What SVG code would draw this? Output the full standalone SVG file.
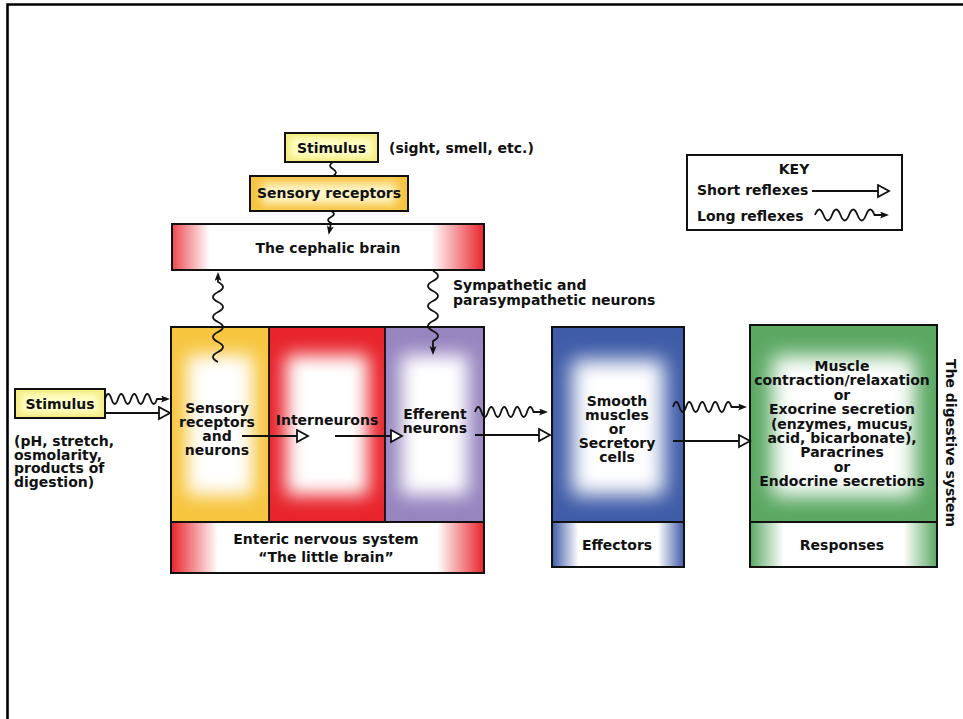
<svg xmlns="http://www.w3.org/2000/svg" width="963" height="719" viewBox="0 0 963 719">
<style>
text { font-family: "DejaVu Sans", "Liberation Sans", sans-serif; font-weight: bold; font-size: 14px; fill: #111; }
.c { text-anchor: middle; }
.box { fill: none; stroke: #111; stroke-width: 2; }
.ln { fill: none; stroke: #111; stroke-width: 1.8; }
.wv { fill: none; stroke: #111; stroke-width: 1.8; marker-end: url(#fa); }
.st { fill: none; stroke: #111; stroke-width: 1.8; marker-end: url(#oa); }
</style>
<defs>
<filter id="b9" x="-50%" y="-50%" width="200%" height="200%"><feGaussianBlur stdDeviation="9"/></filter>
<filter id="b10" x="-50%" y="-50%" width="200%" height="200%"><feGaussianBlur stdDeviation="10"/></filter>
<filter id="b4" x="-50%" y="-50%" width="200%" height="200%"><feGaussianBlur stdDeviation="4"/></filter>
<filter id="b3" x="-50%" y="-50%" width="200%" height="200%"><feGaussianBlur stdDeviation="3"/></filter>
<linearGradient id="gCeph" x1="0" y1="0" x2="1" y2="0">
<stop offset="0" stop-color="#ec4850"/><stop offset="0.12" stop-color="#fff"/><stop offset="0.83" stop-color="#fff"/><stop offset="1" stop-color="#e8242c"/>
</linearGradient>
<linearGradient id="gEns" x1="0" y1="0" x2="1" y2="0">
<stop offset="0" stop-color="#e8242c"/><stop offset="0.15" stop-color="#fff"/><stop offset="0.85" stop-color="#fff"/><stop offset="1" stop-color="#e8242c"/>
</linearGradient>
<linearGradient id="gEff" x1="0" y1="0" x2="1" y2="0">
<stop offset="0" stop-color="#3f5ca8"/><stop offset="0.2" stop-color="#fff"/><stop offset="0.8" stop-color="#fff"/><stop offset="1" stop-color="#3f5ca8"/>
</linearGradient>
<linearGradient id="gRes" x1="0" y1="0" x2="1" y2="0">
<stop offset="0" stop-color="#5aa862"/><stop offset="0.18" stop-color="#fff"/><stop offset="0.82" stop-color="#fff"/><stop offset="1" stop-color="#5aa862"/>
</linearGradient>
<marker id="fa" markerUnits="userSpaceOnUse" markerWidth="12" markerHeight="10" refX="2" refY="3.5" orient="auto">
<path d="M0,0 L9,3.5 L0,7 L2,3.5 z" fill="#111"/>
</marker>
<marker id="oa" markerUnits="userSpaceOnUse" markerWidth="14" markerHeight="16" refX="1" refY="7" orient="auto">
<path d="M1,1 L12,7 L1,13 z" fill="#fff" stroke="#111" stroke-width="1.8"/>
</marker>
</defs>

<rect x="0" y="0" width="963" height="719" fill="#fff"/>
<path d="M7.5,719 L7.5,4.5 L963,4.5" fill="none" stroke="#000" stroke-width="2.6"/>

<g id="stimulus-top">
<rect x="285" y="133" width="93" height="29" fill="#f4ec80"/>
<rect x="291" y="138" width="81" height="19" fill="#ffffc6" filter="url(#b3)"/>
<rect class="box" x="285" y="133" width="93" height="29"/>
<text class="c" x="331.5" y="153">Stimulus</text>
</g>
<text x="389" y="153">(sight, smell, etc.)</text>

<g id="sensory-receptors">
<rect x="250" y="176" width="158" height="35" fill="#f5c440"/>
<rect x="262" y="183" width="134" height="21" fill="#fff4c4" filter="url(#b4)"/>
<rect class="box" x="250" y="176" width="158" height="35"/>
<text class="c" x="329" y="198">Sensory receptors</text>
</g>

<g id="cephalic-brain">
<rect x="172" y="224" width="312" height="46" fill="url(#gCeph)"/>
<rect class="box" x="172" y="224" width="312" height="46"/>
<text class="c" x="328" y="253">The cephalic brain</text>
</g>

<g id="key">
<rect class="box" x="687" y="155" width="215" height="75" fill="#fff"/>
<text class="c" x="794" y="174">KEY</text>
<text x="697" y="195">Short reflexes</text>
<text x="697" y="221">Long reflexes</text>
<path class="st" d="M812,191 L878,191"/>
<path class="wv" d="M815,215 q4.25,-11 8.5,0 t8.5,0 t8.5,0 t8.5,0 t8.5,0 t8.5,0 t8.5,0 L882,215"/>
</g>

<g id="stimulus-left">
<rect x="15" y="389" width="90" height="29" fill="#f4ec80"/>
<rect x="21" y="394" width="78" height="19" fill="#ffffc6" filter="url(#b3)"/>
<rect class="box" x="15" y="389" width="90" height="29"/>
<text class="c" x="60" y="409">Stimulus</text>
</g>
<text x="14" y="446">(pH, stretch,</text>
<text x="14" y="459.5">osmolarity,</text>
<text x="14" y="473">products of</text>
<text x="14" y="486.5">digestion)</text>

<g id="ens">
<g id="ens-sensory">
<rect x="171" y="327" width="98" height="195" fill="#f7c53e"/>
<rect x="187" y="355" width="66" height="140" fill="#fff" filter="url(#b9)"/>
<text class="c" x="217" y="413">Sensory</text>
<text class="c" x="217" y="427">receptors</text>
<text class="c" x="217" y="441">and</text>
<text class="c" x="217" y="455">neurons</text>
</g>
<g id="ens-interneurons">
<rect x="269" y="327" width="116" height="195" fill="#e8242c"/>
<rect x="286" y="355" width="82" height="140" fill="#fff" filter="url(#b9)"/>
<text class="c" x="327" y="425">Interneurons</text>
</g>
<g id="ens-efferent">
<rect x="385" y="327" width="99" height="195" fill="#9785c0"/>
<rect x="401" y="355" width="67" height="140" fill="#fff" filter="url(#b9)"/>
<text class="c" x="435" y="419">Efferent</text>
<text class="c" x="435" y="433">neurons</text>
</g>
<g id="ens-bar">
<rect x="171" y="522" width="313" height="51" fill="url(#gEns)"/>
<text class="c" x="326" y="544">Enteric nervous system</text>
<text class="c" x="326" y="562">“The little brain”</text>
</g>
<rect class="box" x="171" y="327" width="313" height="246"/>
<path class="ln" d="M269,327 V522 M385,327 V522 M171,522 H484" stroke-width="2"/>
</g>

<g id="effectors">
<rect x="552" y="327" width="132" height="195" fill="#3f5ca8"/>
<rect x="572" y="360" width="92" height="135" fill="#fff" filter="url(#b10)"/>
<rect x="552" y="522" width="132" height="45" fill="url(#gEff)"/>
<rect class="box" x="552" y="327" width="132" height="240"/>
<path class="ln" d="M552,522 H684" stroke-width="2"/>
<text class="c" x="617" y="406">Smooth</text>
<text class="c" x="617" y="420">muscles</text>
<text class="c" x="617" y="434">or</text>
<text class="c" x="617" y="448">Secretory</text>
<text class="c" x="617" y="462">cells</text>
<text class="c" x="617" y="550">Effectors</text>
</g>

<g id="responses">
<rect x="750" y="325" width="187" height="197" fill="#5aa862"/>
<rect x="772" y="356" width="143" height="140" fill="#fff" filter="url(#b10)"/>
<rect x="750" y="522" width="187" height="45" fill="url(#gRes)"/>
<rect class="box" x="750" y="325" width="187" height="242"/>
<path class="ln" d="M750,522 H937" stroke-width="2"/>
<text class="c" x="842" y="371">Muscle</text>
<text class="c" x="842" y="385.4">contraction/relaxation</text>
<text class="c" x="842" y="399.8">or</text>
<text class="c" x="842" y="414.2">Exocrine secretion</text>
<text class="c" x="842" y="428.6">(enzymes, mucus,</text>
<text class="c" x="842" y="443">acid, bicarbonate),</text>
<text class="c" x="842" y="457.4">Paracrines</text>
<text class="c" x="842" y="471.8">or</text>
<text class="c" x="842" y="486.2">Endocrine secretions</text>
<text class="c" x="842" y="550">Responses</text>
</g>
<text class="c" transform="translate(946,443) rotate(90)">The digestive system</text>
<text x="453" y="290">Sympathetic and</text>
<text x="453" y="305">parasympathetic neurons</text>

<g id="connectors">
<path class="ln" d="M333,162 q-6,3.5 0,7 t0,7"/>
<path class="wv" d="M331,211 q6,3 0,6 t0,6 L330,228"/>
<path class="wv" d="M218,362 q-10,-5 0,-10 t0,-10 t0,-10 t0,-10 t0,-10 t0,-10 t0,-10 t0,-10 L218,279"/>
<path class="wv" d="M433,271 q10,5 0,10 t0,10 t0,10 t0,10 t0,10 t0,10 t0,10 L433,348"/>
<path class="wv" d="M105,399 q3.25,-10 6.5,0 t6.5,0 t6.5,0 t6.5,0 t6.5,0 t6.5,0 t6.5,0 t6.5,0 L163,399"/>
<path class="st" d="M105,413 L159,413"/>
<path class="st" d="M242,436 L297,436"/>
<path class="st" d="M335,436 L391,436"/>
<path class="wv" d="M475,412 q3.25,-10 6.5,0 t6.5,0 t6.5,0 t6.5,0 t6.5,0 t6.5,0 t6.5,0 t6.5,0 t6.5,0 L541,412"/>
<path class="st" d="M475,435 L539,435"/>
<path class="wv" d="M673,407 q3.25,-10 6.5,0 t6.5,0 t6.5,0 t6.5,0 t6.5,0 t6.5,0 t6.5,0 t6.5,0 t6.5,0 L740,407"/>
<path class="st" d="M673,441 L739,441"/>
</g>
</svg>
